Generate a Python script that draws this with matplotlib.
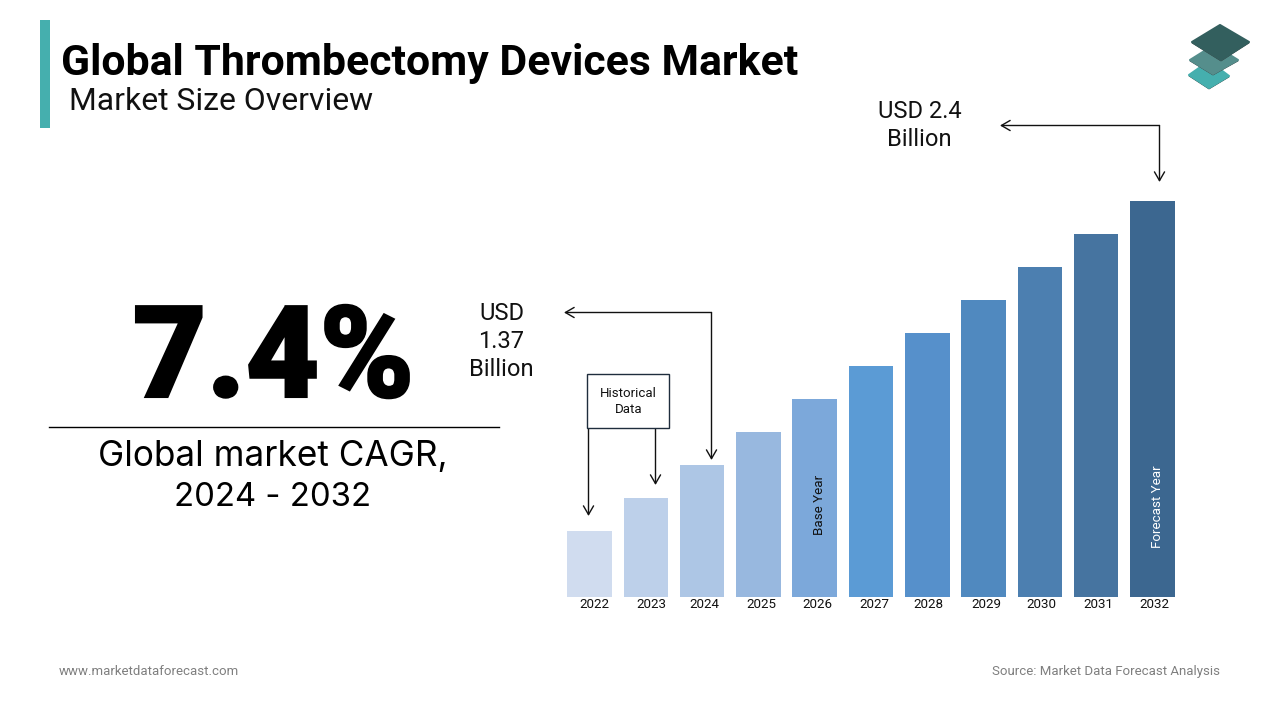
import matplotlib
matplotlib.use("Agg")
import matplotlib.pyplot as plt
import matplotlib.patheffects as pe
from matplotlib.patches import Polygon, Rectangle

years = ["2022", "2023", "2024", "2025", "2026", "2027", "2028", "2029", "2030", "2031", "2032"]
# bars are drawn as even steps in the source, so these are relative heights, not USD
bar_values = [2, 3, 4, 5, 6, 7, 8, 9, 10, 11, 12]

bar_colors = ["#D0DCEF", "#BDD0EA", "#ADC6E5", "#98B8DF", "#7CA8DA", "#5B9BD5",
              "#5690CB", "#5089BF", "#4C7FB0", "#4674A0", "#3C6790"]
# year labels sit a bit off the bar centres in the reference (in pixels)
label_nudge = [4.5, 5.5, 2, 3, 3, 3.5, 1, 2.5, 1.5, 2, 2]

fig = plt.figure(figsize=(12.8, 7.2), dpi=100)

# overlay in pixel coordinates for the slide furniture
bg = fig.add_axes([0, 0, 1, 1])
bg.set_xlim(0, 1280)
bg.set_ylim(720, 0)
bg.axis("off")

# bars axes: x in category units, y in relative height units
left, right, top, bottom = 561.5, 1180.5, 201, 597
ax = fig.add_axes([left / 1280, 1 - bottom / 720, (right - left) / 1280, (bottom - top) / 720])
x = list(range(len(years)))
ax.bar(x, bar_values, width=0.79, color=bar_colors)
ax.set_xlim(-0.5, len(years) - 0.5)
ax.set_ylim(0, 12)
ax.set_yticks([])
step = (right - left) / len(years)
ax.set_xticks([i + n / step for i, n in zip(x, label_nudge)])
ax.set_xticklabels(years, fontsize=9.6, family="Roboto", color="#111111")
ax.tick_params(axis="x", length=0, pad=0.5)
for s in ax.spines.values():
    s.set_visible(False)
ax.patch.set_alpha(0)

ax.text(4.08, 2.79, "Base Year", rotation=90, ha="center", va="center", fontsize=9.6,
        family="Roboto", color="#111111")
ax.text(10.1, 2.74, "Forecast Year", rotation=90, ha="center", va="center", fontsize=9.6,
        family="Roboto", color="white")

# header
bg.add_patch(Rectangle((40, 20), 10, 108, color="#45AFAE", lw=0))
bg.text(61, 63, "Global Thrombectomy Devices Market", fontsize=30.8, fontweight="bold",
        family="Roboto", color="black", va="center", ha="left")
bg.text(69, 102, "Market Size Overview", fontsize=22.95, family="Roboto", color="#111111",
        va="center", ha="left")

# logo, back to front, each plate with a thin dark underside
def plate(points, color):
    under = [(px, py + 1) for px, py in points]
    bg.add_patch(Polygon(under, facecolor="#3A4A4A", edgecolor="#3A4A4A", lw=0.6, joinstyle="round"))
    bg.add_patch(Polygon(points, facecolor=color, edgecolor=color, lw=1.5, joinstyle="round"))

plate([(1189, 75), (1209, 61), (1229, 76), (1209, 88)], "#45AFAE")
plate([(1190, 60), (1214, 45), (1238, 60), (1213, 74)], "#558E8C")
plate([(1192, 42), (1220, 25), (1249, 42), (1221, 60)], "#335F5E")

# CAGR block, stroked a little since the installed fonts are lighter than the original
big = bg.text(273.5, 362, "7.4%", fontsize=92, fontweight="black", family="Roboto", color="black",
              ha="center", va="center")
big.set_path_effects([pe.withStroke(linewidth=1.5, foreground="black", joinstyle="miter")])
bg.plot([49, 498.5], [427, 427], color="black", lw=1)
bg.text(273, 457, "Global market CAGR,", fontsize=25.3, family="Inter", color="black",
        ha="center", va="center")
bg.text(273, 497, "2024 - 2032", fontsize=23.7, family="Inter", color="black",
        ha="center", va="center")

# callouts
bg.text(501.5, 314, "USD", fontsize=17.1, family="Roboto", ha="center", va="center", color="#111111")
bg.text(501.5, 342, "1.37", fontsize=17.1, family="Roboto", ha="center", va="center", color="#111111")
bg.text(501.5, 370, "Billion", fontsize=17.1, family="Roboto", ha="center", va="center", color="#111111")
bg.text(919.5, 112, "USD 2.4", fontsize=17.1, family="Roboto", ha="center", va="center", color="#111111")
bg.text(919.5, 140, "Billion", fontsize=17.1, family="Roboto", ha="center", va="center", color="#111111")


def arrow(start, end):
    bg.annotate("", xy=end, xytext=start,
                arrowprops=dict(arrowstyle="->,head_length=0.45,head_width=0.26", color="#111111",
                                lw=1, mutation_scale=14, shrinkA=0, shrinkB=0))


arrow((711.5, 312.5), (564, 312.5))
arrow((711.5, 312.5), (711.5, 460))
arrow((1159.5, 125.5), (1000, 125.5))
arrow((1159.5, 125.5), (1159.5, 182))
arrow((588.5, 427), (588.5, 516))
arrow((655.5, 427), (655.5, 485))

bg.add_patch(Rectangle((587, 374), 82, 54, facecolor="white", edgecolor="#1F2D3D", lw=1, zorder=3))
bg.text(628.5, 393.5, "Historical", fontsize=9.5, family="Roboto", ha="center", va="center",
        color="#111111", zorder=4)
bg.text(628.5, 409.5, "Data", fontsize=9.5, family="Roboto", ha="center", va="center",
        color="#111111", zorder=4)

# footer
bg.text(59, 671.5, "www.marketdataforecast.com", fontsize=9.58, family="Roboto", color="#7F7F7F",
        va="center", ha="left")
bg.text(1220, 671.5, "Source: Market Data Forecast Analysis", fontsize=9.55, family="Roboto",
        color="#7F7F7F", va="center", ha="right")

fig.savefig("out.png", dpi=100)
plt.close(fig)
